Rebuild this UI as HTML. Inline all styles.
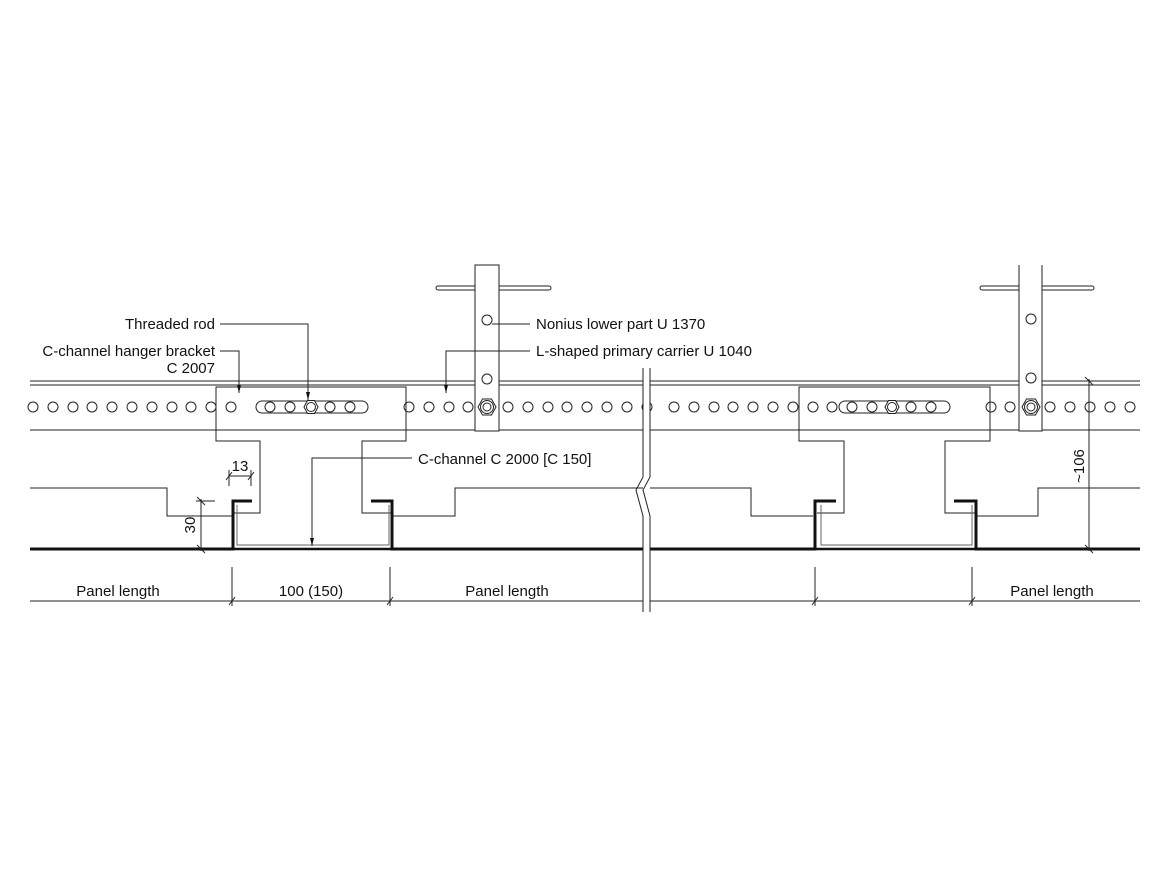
<!DOCTYPE html>
<html><head><meta charset="utf-8"><style>
html,body{margin:0;padding:0;background:#fff;}
svg{display:block;}
text{font-family:"Liberation Sans",sans-serif;font-size:15px;fill:#111;}
</style></head><body>
<svg width="1170" height="878" viewBox="0 0 1170 878" xmlns="http://www.w3.org/2000/svg">
<defs>
<marker id="ar" markerWidth="9" markerHeight="6" refX="8" refY="3" orient="auto" markerUnits="userSpaceOnUse">
<path d="M0,1 L8,3 L0,5 Z" fill="#111"/></marker>
</defs>
<g stroke="#222" stroke-width="1" fill="none">
<line x1="30" y1="381" x2="643" y2="381"/><line x1="30" y1="385" x2="643" y2="385"/>
<line x1="650" y1="381" x2="1140" y2="381"/><line x1="650" y1="385" x2="1140" y2="385"/>
<line x1="30" y1="430" x2="643" y2="430"/><line x1="650" y1="430" x2="1140" y2="430"/>
<g>
<circle cx="33" cy="407" r="5"/><circle cx="53" cy="407" r="5"/><circle cx="73" cy="407" r="5"/><circle cx="92" cy="407" r="5"/><circle cx="112" cy="407" r="5"/><circle cx="132" cy="407" r="5"/><circle cx="152" cy="407" r="5"/><circle cx="172" cy="407" r="5"/><circle cx="191" cy="407" r="5"/><circle cx="211" cy="407" r="5"/><circle cx="231" cy="407" r="5"/>
<circle cx="409" cy="407" r="5"/><circle cx="429" cy="407" r="5"/><circle cx="449" cy="407" r="5"/><circle cx="468" cy="407" r="5"/>
<circle cx="508" cy="407" r="5"/><circle cx="528" cy="407" r="5"/><circle cx="548" cy="407" r="5"/><circle cx="567" cy="407" r="5"/><circle cx="587" cy="407" r="5"/><circle cx="607" cy="407" r="5"/><circle cx="627" cy="407" r="5"/><circle cx="647" cy="407" r="5"/>
<circle cx="674" cy="407" r="5"/><circle cx="694" cy="407" r="5"/><circle cx="714" cy="407" r="5"/><circle cx="733" cy="407" r="5"/><circle cx="753" cy="407" r="5"/><circle cx="773" cy="407" r="5"/><circle cx="793" cy="407" r="5"/><circle cx="813" cy="407" r="5"/><circle cx="832" cy="407" r="5"/>
<circle cx="991" cy="407" r="5"/><circle cx="1010" cy="407" r="5"/><circle cx="1050" cy="407" r="5"/><circle cx="1070" cy="407" r="5"/><circle cx="1090" cy="407" r="5"/><circle cx="1110" cy="407" r="5"/><circle cx="1130" cy="407" r="5"/>
</g>
<path d="M232,513 H260 V441 H216 V387 H406 V441 H362 V513 H393"/>
<rect x="256" y="401" width="112" height="12" rx="6"/>
<circle cx="270" cy="407" r="5"/><circle cx="290" cy="407" r="5"/><circle cx="330" cy="407" r="5"/><circle cx="350" cy="407" r="5"/>
<polygon points="304,407 307.5,400.5 314.5,400.5 318,407 314.5,413.5 307.5,413.5" fill="#fff"/><circle cx="311" cy="407" r="4.5"/>
<path d="M817,513 H844 V441 H799 V387 H990 V441 H945 V513 H977"/>
<rect x="839" y="401" width="111" height="12" rx="6"/>
<circle cx="852" cy="407" r="5"/><circle cx="872" cy="407" r="5"/><circle cx="911" cy="407" r="5"/><circle cx="931" cy="407" r="5"/>
<polygon points="885,407 888.5,400.5 895.5,400.5 899,407 895.5,413.5 888.5,413.5" fill="#fff"/><circle cx="892" cy="407" r="4.5"/>
<rect x="436" y="286" width="115" height="4" rx="2"/>
<rect x="475" y="265" width="24" height="166" fill="#fff"/>
<circle cx="487" cy="320" r="5"/><circle cx="487" cy="379" r="5"/>
<polygon points="478,407 482.5,399 491.5,399 496,407 491.5,415 482.5,415" fill="#fff"/><circle cx="487" cy="407" r="6.5"/><circle cx="487" cy="407" r="4"/>
<rect x="980" y="286" width="114" height="4" rx="2"/>
<rect x="1019" y="265" width="23" height="166" fill="#fff" stroke="none"/>
<path d="M1019,265 V431 H1042 V265"/>
<circle cx="1031" cy="319" r="5"/><circle cx="1031" cy="378" r="5"/>
<polygon points="1022,407 1026.5,399 1035.5,399 1040,407 1035.5,415 1026.5,415" fill="#fff"/><circle cx="1031" cy="407" r="6.5"/><circle cx="1031" cy="407" r="4"/>
<path d="M30,488 H167 V516 H232"/>
<path d="M393,516 H455 V488 H643"/>
<path d="M650,488 H751 V516 H813"/>
<path d="M977,516 H1038 V488 H1140"/>
<path d="M237,505 V545 H389 V505" stroke="#666"/>
<path d="M821,505 V545 H972 V505" stroke="#666"/>
</g>
<g stroke="#111" stroke-width="3" fill="none">
<path d="M30,549 H233 V501 H252"/>
<path d="M371,501 H392 V549 H643"/>
<path d="M650,549 H815 V501 H836"/>
<path d="M954,501 H976 V549 H1140"/>
<path d="M233,549 H392 M815,549 H976" stroke-width="2.5"/>
</g>
<rect x="643.5" y="366" width="6" height="250" fill="#fff"/>
<g stroke="#222" stroke-width="1" fill="none">
<path d="M643,368 V477 L636,490 L643,516 V612"/>
<path d="M650,368 V477 L643,490 L650,516 V612"/>
</g>
<g stroke="#222" stroke-width="1" fill="none">
<path d="M220,324 H308 V400" marker-end="url(#ar)"/>
<path d="M220,351 H239 V393" marker-end="url(#ar)"/>
<path d="M530,324 H492"/>
<path d="M530,351 H446 V393" marker-end="url(#ar)"/>
<path d="M412,458 H312 V546" marker-end="url(#ar)"/>
<line x1="229" y1="476" x2="251" y2="476"/>
<line x1="229" y1="470" x2="229" y2="486"/><line x1="251" y1="470" x2="251" y2="486"/>
<line x1="226" y1="480" x2="232" y2="472"/><line x1="248" y1="480" x2="254" y2="472"/>
<line x1="201" y1="499" x2="201" y2="551"/><line x1="196" y1="501" x2="215" y2="501"/>
<line x1="197" y1="497" x2="205" y2="505"/><line x1="197" y1="545" x2="205" y2="553"/>
<line x1="1089" y1="379" x2="1089" y2="551"/>
<line x1="1085" y1="377" x2="1093" y2="385"/><line x1="1085" y1="545" x2="1093" y2="553"/>
<line x1="30" y1="601" x2="643" y2="601"/><line x1="650" y1="601" x2="1140" y2="601"/>
<line x1="232" y1="567" x2="232" y2="606"/><line x1="390" y1="567" x2="390" y2="606"/>
<line x1="815" y1="567" x2="815" y2="606"/><line x1="972" y1="567" x2="972" y2="606"/>
<line x1="229" y1="605" x2="235" y2="597"/><line x1="387" y1="605" x2="393" y2="597"/>
<line x1="812" y1="605" x2="818" y2="597"/><line x1="969" y1="605" x2="975" y2="597"/>
</g>
<text x="215" y="329" text-anchor="end">Threaded rod</text>
<text x="215" y="356" text-anchor="end">C-channel hanger bracket</text>
<text x="215" y="373" text-anchor="end">C 2007</text>
<text x="536" y="329">Nonius lower part U 1370</text>
<text x="536" y="356">L-shaped primary carrier U 1040</text>
<text x="418" y="464">C-channel C 2000 [C 150]</text>
<text x="240" y="471" text-anchor="middle" font-size="13">13</text>
<text transform="translate(195,525) rotate(-90)" text-anchor="middle" font-size="14">30</text>
<text transform="translate(1084,466) rotate(-90)" text-anchor="middle" font-size="14">~106</text>
<text x="118" y="596" text-anchor="middle">Panel length</text>
<text x="311" y="596" text-anchor="middle">100 (150)</text>
<text x="507" y="596" text-anchor="middle">Panel length</text>
<text x="1052" y="596" text-anchor="middle">Panel length</text>
</svg>
</body></html>
